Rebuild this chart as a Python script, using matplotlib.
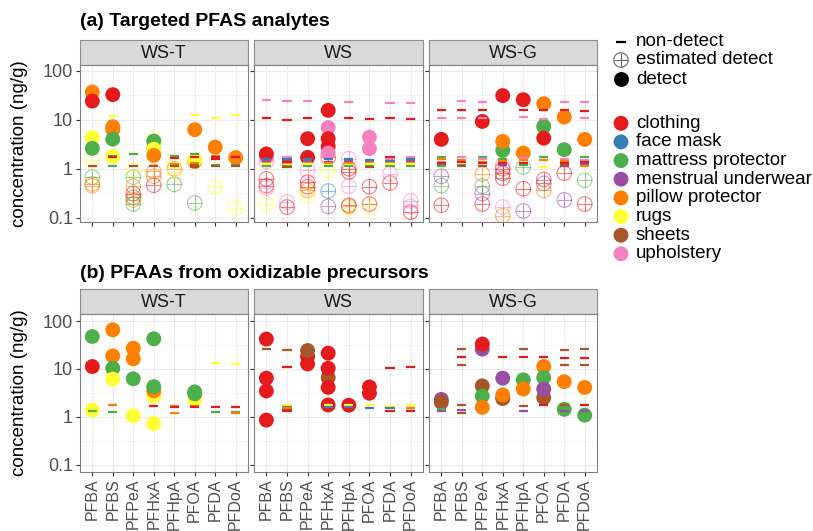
import matplotlib.pyplot as plt

plt.rcParams['font.family'] = ['Liberation Sans', 'DejaVu Sans']

analytes = ["PFBA", "PFBS", "PFPeA", "PFHxA", "PFHpA", "PFOA", "PFDA", "PFDoA"]
products = ["clothing", "face mask", "mattress protector", "menstrual underwear",
            "pillow protector", "rugs", "sheets", "upholstery"]
codes = ["cl", "fm", "mp", "mu", "pp", "ru", "sh", "up"]
product_colors = ["#E41A1C", "#377EB8", "#4DAF4A", "#984EA3",
                  "#FF7F00", "#FFFF33", "#A65628", "#F781BF"]
facets = ["WS-T", "WS", "WS-G"]

# (a) targeted analytes -- (analyte, product code, ng/g)
a_wst_nd = [("PFBA", "sh", 1.11),
            ("PFBS", "ru", 11.7), ("PFBS", "mp", 1.85), ("PFBS", "cl", 1.75), ("PFBS", "mp", 1.11),
            ("PFPeA", "mp", 1.96), ("PFPeA", "sh", 1.11),
            ("PFHxA", "sh", 1.13),
            ("PFHpA", "mp", 1.78), ("PFHpA", "cl", 1.68), ("PFHpA", "pp", 1.25), ("PFHpA", "sh", 1.12),
            ("PFOA", "ru", 12.2), ("PFOA", "mp", 1.96), ("PFOA", "cl", 1.7), ("PFOA", "pp", 1.3),
            ("PFOA", "sh", 1.2), ("PFOA", "sh", 1.1),
            ("PFDA", "ru", 11.0), ("PFDA", "pp", 1.85), ("PFDA", "cl", 1.7), ("PFDA", "cl", 1.55),
            ("PFDA", "mp", 1.2), ("PFDA", "sh", 1.12),
            ("PFDoA", "ru", 12.6), ("PFDoA", "cl", 1.7), ("PFDoA", "mp", 1.2), ("PFDoA", "sh", 1.15)]
a_wst_est = [("PFBA", "ru", 1.48), ("PFBA", "mp", 0.67), ("PFBA", "pp", 0.49), ("PFBA", "pp", 0.45),
             ("PFPeA", "ru", 0.95), ("PFPeA", "mp", 0.67), ("PFPeA", "pp", 0.44), ("PFPeA", "cl", 0.31),
             ("PFPeA", "sh", 0.26), ("PFPeA", "pp", 0.23), ("PFPeA", "mp", 0.19),
             ("PFHxA", "ru", 4.1), ("PFHxA", "pp", 0.88), ("PFHxA", "pp", 0.70), ("PFHxA", "cl", 0.46),
             ("PFHpA", "ru", 1.36), ("PFHpA", "pp", 1.0), ("PFHpA", "ru", 0.85), ("PFHpA", "mp", 0.48),
             ("PFOA", "mp", 0.2), ("PFDA", "ru", 0.42), ("PFDoA", "ru", 0.16)]
a_wst_det = [("PFBA", "pp", 36.6), ("PFBA", "cl", 24.0), ("PFBA", "ru", 4.3), ("PFBA", "mp", 2.6),
             ("PFBS", "cl", 32.4), ("PFBS", "pp", 7.2), ("PFBS", "pp", 6.3), ("PFBS", "mp", 4.0),
             ("PFBS", "ru", 1.78),
             ("PFHxA", "mp", 3.66), ("PFHxA", "mp", 2.56), ("PFHxA", "ru", 2.5), ("PFHxA", "pp", 1.87),
             ("PFOA", "pp", 6.25), ("PFOA", "pp", 1.4), ("PFOA", "ru", 1.5),
             ("PFDA", "pp", 2.76), ("PFDoA", "pp", 1.68)]

a_ws_nd = [("PFBA", "up", 24.8), ("PFBA", "cl", 10.8), ("PFBA", "fm", 1.6), ("PFBA", "mu", 1.45),
           ("PFBA", "pp", 1.3), ("PFBA", "ru", 1.22), ("PFBA", "mp", 1.15),
           ("PFBS", "up", 24.0), ("PFBS", "cl", 9.7), ("PFBS", "up", 1.7), ("PFBS", "fm", 1.55),
           ("PFBS", "mu", 1.45), ("PFBS", "cl", 1.35), ("PFBS", "pp", 1.25), ("PFBS", "ru", 1.2),
           ("PFBS", "mp", 1.15), ("PFBS", "sh", 1.1),
           ("PFPeA", "up", 24.0), ("PFPeA", "cl", 11.0), ("PFPeA", "fm", 1.6), ("PFPeA", "mu", 1.45),
           ("PFPeA", "pp", 1.3), ("PFPeA", "ru", 1.22), ("PFPeA", "mp", 1.15),
           ("PFHxA", "fm", 1.55), ("PFHxA", "mu", 1.4), ("PFHxA", "pp", 1.3), ("PFHxA", "ru", 1.2),
           ("PFHxA", "mp", 1.15),
           ("PFHpA", "up", 22.5), ("PFHpA", "cl", 10.8), ("PFHpA", "fm", 1.55), ("PFHpA", "mu", 1.45),
           ("PFHpA", "pp", 1.3), ("PFHpA", "ru", 1.2), ("PFHpA", "mp", 1.15),
           ("PFOA", "cl", 10.5), ("PFOA", "fm", 1.5), ("PFOA", "mu", 1.4), ("PFOA", "pp", 1.3),
           ("PFOA", "ru", 1.22), ("PFOA", "mp", 1.15), ("PFOA", "sh", 1.1),
           ("PFDA", "up", 22.0), ("PFDA", "cl", 11.0), ("PFDA", "cl", 1.75), ("PFDA", "up", 1.6),
           ("PFDA", "fm", 1.45), ("PFDA", "pp", 1.3), ("PFDA", "ru", 1.22), ("PFDA", "mp", 1.15),
           ("PFDoA", "up", 22.0), ("PFDoA", "cl", 10.5), ("PFDoA", "up", 1.7), ("PFDoA", "fm", 1.55),
           ("PFDoA", "mu", 1.45), ("PFDoA", "pp", 1.3), ("PFDoA", "ru", 1.22), ("PFDoA", "mp", 1.15)]
a_ws_est = [("PFBA", "up", 1.41), ("PFBA", "cl", 0.62), ("PFBA", "cl", 0.45), ("PFBA", "up", 0.4),
            ("PFBA", "ru", 0.19),
            ("PFBS", "up", 0.21), ("PFBS", "cl", 0.165),
            ("PFPeA", "up", 0.92), ("PFPeA", "cl", 0.53), ("PFPeA", "cl", 0.43), ("PFPeA", "pp", 0.36),
            ("PFPeA", "ru", 0.285),
            ("PFHxA", "cl", 1.7), ("PFHxA", "ru", 0.92), ("PFHxA", "fm", 0.35), ("PFHxA", "mu", 0.17),
            ("PFHpA", "up", 1.6), ("PFHpA", "cl", 1.0), ("PFHpA", "cl", 0.86), ("PFHpA", "up", 0.44),
            ("PFHpA", "pp", 0.17), ("PFHpA", "ru", 0.16), ("PFHpA", "cl", 0.18),
            ("PFOA", "cl", 0.43), ("PFOA", "cl", 0.19), ("PFOA", "ru", 0.165),
            ("PFDA", "up", 0.79), ("PFDA", "cl", 0.51),
            ("PFDoA", "up", 0.22), ("PFDoA", "up", 0.17), ("PFDoA", "cl", 0.13)]
a_ws_det = [("PFBA", "up", 1.75), ("PFBA", "cl", 2.0),
            ("PFPeA", "cl", 4.1), ("PFPeA", "cl", 1.7),
            ("PFHxA", "cl", 15.5), ("PFHxA", "up", 6.9), ("PFHxA", "cl", 4.1), ("PFHxA", "cl", 2.85),
            ("PFHxA", "up", 2.08),
            ("PFOA", "up", 4.4), ("PFOA", "up", 2.56)]

a_wsg_nd = [("PFBA", "cl", 15.5), ("PFBA", "up", 11.0), ("PFBA", "mp", 1.75), ("PFBA", "pp", 1.55),
            ("PFBA", "up", 1.4), ("PFBA", "cl", 1.3), ("PFBA", "sh", 1.2), ("PFBA", "mp", 1.12),
            ("PFBS", "up", 24.0), ("PFBS", "cl", 16.0), ("PFBS", "up", 11.0), ("PFBS", "up", 1.7),
            ("PFBS", "pp", 1.5), ("PFBS", "cl", 1.35), ("PFBS", "mp", 1.2), ("PFBS", "sh", 1.12),
            ("PFPeA", "up", 23.0), ("PFPeA", "cl", 16.0), ("PFPeA", "up", 11.0), ("PFPeA", "mp", 1.75),
            ("PFPeA", "up", 1.55), ("PFPeA", "pp", 1.4), ("PFPeA", "cl", 1.3), ("PFPeA", "sh", 1.15),
            ("PFHxA", "mp", 1.6), ("PFHxA", "pp", 1.45), ("PFHxA", "cl", 1.3), ("PFHxA", "mu", 1.2),
            ("PFHpA", "cl", 15.5), ("PFHpA", "up", 11.5), ("PFHpA", "up", 1.65), ("PFHpA", "pp", 1.5),
            ("PFHpA", "cl", 1.3), ("PFHpA", "mp", 1.2),
            ("PFOA", "cl", 16.0), ("PFOA", "up", 10.5), ("PFOA", "mp", 1.7), ("PFOA", "pp", 1.5),
            ("PFOA", "ru", 1.08),
            ("PFDA", "up", 23.0), ("PFDA", "cl", 16.0), ("PFDA", "up", 1.6), ("PFDA", "pp", 1.45),
            ("PFDA", "cl", 1.3), ("PFDA", "mu", 1.2), ("PFDA", "sh", 1.12),
            ("PFDoA", "up", 23.0), ("PFDoA", "cl", 15.0), ("PFDoA", "up", 11.0), ("PFDoA", "mp", 1.7),
            ("PFDoA", "up", 1.5), ("PFDoA", "cl", 1.35), ("PFDoA", "mu", 1.22), ("PFDoA", "pp", 1.12)]
a_wsg_est = [("PFBA", "mu", 0.70), ("PFBA", "mp", 0.45), ("PFBA", "cl", 0.18),
             ("PFPeA", "pp", 0.78), ("PFPeA", "mp", 0.44), ("PFPeA", "mu", 0.31), ("PFPeA", "cl", 0.19),
             ("PFHxA", "up", 1.2), ("PFHxA", "cl", 1.0), ("PFHxA", "cl", 0.8), ("PFHxA", "cl", 0.64),
             ("PFHxA", "up", 0.165), ("PFHxA", "pp", 0.11),
             ("PFHpA", "mp", 1.08), ("PFHpA", "cl", 0.39), ("PFHpA", "mu", 0.137),
             ("PFOA", "cl", 0.6), ("PFOA", "mu", 0.5), ("PFOA", "pp", 0.36),
             ("PFDA", "cl", 0.81), ("PFDA", "mu", 0.23),
             ("PFDoA", "mp", 0.58), ("PFDoA", "cl", 0.19)]
a_wsg_det = [("PFBA", "cl", 3.96), ("PFPeA", "cl", 9.2),
             ("PFHxA", "cl", 31.0), ("PFHxA", "mp", 2.36), ("PFHxA", "pp", 3.6),
             ("PFHpA", "cl", 25.6), ("PFHpA", "pp", 2.08),
             ("PFOA", "pp", 21.2), ("PFOA", "mp", 7.3), ("PFOA", "cl", 4.2),
             ("PFDA", "pp", 11.3), ("PFDA", "mp", 2.44), ("PFDoA", "pp", 3.96)]

# (b) PFAAs from oxidizable precursors
b_wst_nd = [("PFBA", "mp", 1.3), ("PFBS", "pp", 1.76), ("PFBS", "mp", 1.27), ("PFHxA", "cl", 1.68),
            ("PFHpA", "pp", 1.7), ("PFHpA", "cl", 1.6), ("PFHpA", "pp", 1.18),
            ("PFOA", "pp", 1.7), ("PFOA", "cl", 1.58),
            ("PFDA", "ru", 13.2), ("PFDA", "cl", 1.58), ("PFDA", "mp", 1.28),
            ("PFDoA", "ru", 12.7), ("PFDoA", "cl", 1.6), ("PFDoA", "mp", 1.28), ("PFDoA", "pp", 1.22)]
b_wst_det = [("PFBA", "mp", 47.5), ("PFBA", "cl", 11.2), ("PFBA", "ru", 1.38),
             ("PFBS", "pp", 65.7), ("PFBS", "pp", 18.7), ("PFBS", "mp", 10.3), ("PFBS", "ru", 6.1),
             ("PFPeA", "pp", 27.0), ("PFPeA", "pp", 16.2), ("PFPeA", "mp", 6.2), ("PFPeA", "ru", 1.05),
             ("PFHxA", "mp", 42.6), ("PFHxA", "ru", 2.7), ("PFHxA", "pp", 3.46), ("PFHxA", "mp", 4.25),
             ("PFHxA", "ru", 0.72),
             ("PFOA", "ru", 2.3), ("PFOA", "mp", 3.0), ("PFOA", "mp", 3.3)]
b_ws_nd = [("PFBA", "sh", 25.9),
           ("PFBS", "sh", 25.0), ("PFBS", "cl", 11.2), ("PFBS", "ru", 1.75), ("PFBS", "fm", 1.6),
           ("PFBS", "pp", 1.5), ("PFBS", "sh", 1.4), ("PFBS", "cl", 1.3),
           ("PFHxA", "ru", 1.8), ("PFHxA", "fm", 1.6), ("PFHpA", "ru", 1.8), ("PFHpA", "fm", 1.6),
           ("PFOA", "ru", 1.75), ("PFOA", "fm", 1.55),
           ("PFDA", "cl", 10.6), ("PFDA", "ru", 1.7), ("PFDA", "fm", 1.55), ("PFDA", "cl", 1.3),
           ("PFDoA", "cl", 10.8), ("PFDoA", "ru", 1.8), ("PFDoA", "fm", 1.55), ("PFDoA", "pp", 1.5),
           ("PFDoA", "cl", 1.3)]
b_ws_det = [("PFBA", "cl", 42.0), ("PFBA", "cl", 6.4), ("PFBA", "cl", 3.46), ("PFBA", "cl", 0.85),
            ("PFPeA", "cl", 18.1), ("PFPeA", "cl", 12.7), ("PFPeA", "sh", 24.2),
            ("PFHxA", "sh", 6.6), ("PFHxA", "cl", 21.3), ("PFHxA", "cl", 10.3), ("PFHxA", "cl", 4.1),
            ("PFHxA", "cl", 1.76),
            ("PFHpA", "cl", 1.74), ("PFOA", "cl", 4.2), ("PFOA", "cl", 3.1)]
b_wsg_nd = [("PFBA", "mp", 1.45), ("PFBA", "mu", 1.3),
            ("PFBS", "sh", 26.0), ("PFBS", "cl", 17.3), ("PFBS", "sh", 12.1), ("PFBS", "sh", 1.8),
            ("PFBS", "mu", 1.35), ("PFBS", "sh", 1.2),
            ("PFHxA", "cl", 18.1),
            ("PFHpA", "sh", 26.0), ("PFHpA", "cl", 17.7), ("PFHpA", "sh", 1.7), ("PFHpA", "mu", 1.3),
            ("PFOA", "cl", 18.0), ("PFOA", "cl", 1.75),
            ("PFDA", "sh", 25.0), ("PFDA", "cl", 16.7), ("PFDA", "sh", 12.0), ("PFDA", "sh", 1.75),
            ("PFDA", "mu", 1.3),
            ("PFDoA", "sh", 26.5), ("PFDoA", "cl", 16.7), ("PFDoA", "sh", 12.0), ("PFDoA", "cl", 1.75),
            ("PFDoA", "mu", 1.3)]
b_wsg_det = [("PFBA", "mu", 2.3), ("PFBA", "sh", 2.0),
             ("PFPeA", "mu", 25.9), ("PFPeA", "cl", 33.0), ("PFPeA", "sh", 4.4), ("PFPeA", "mp", 2.7),
             ("PFPeA", "pp", 1.57),
             ("PFHxA", "mu", 6.4), ("PFHxA", "mp", 2.5), ("PFHxA", "sh", 2.4), ("PFHxA", "pp", 2.85),
             ("PFHpA", "mp", 5.9), ("PFHpA", "pp", 3.8),
             ("PFOA", "pp", 11.2), ("PFOA", "mp", 6.6), ("PFOA", "sh", 2.5), ("PFOA", "mu", 3.8),
             ("PFDA", "pp", 5.4), ("PFDA", "mp", 1.43),
             ("PFDoA", "pp", 4.1), ("PFDoA", "mp", 1.08)]

W, H = 813, 531
fig = plt.figure(figsize=(W / 100, H / 100), dpi=100)


def box(x0, y0, x1, y1):
    return [x0 / W, 1 - y1 / H, (x1 - x0) / W, (y1 - y0) / H]


def split(rows):
    x = [analytes.index(a) for a, p, v in rows]
    y = [v for a, p, v in rows]
    c = [product_colors[codes.index(p)] for a, p, v in rows]
    return x, y, c


def draw(ax, nd, est, det):
    if est:
        x, y, c = split(est)
        ax.scatter(x, y, s=110, facecolors="none", edgecolors=c, linewidths=0.8, alpha=0.55, zorder=3)
        ax.scatter(x, y, s=110, marker="+", c=c, linewidths=0.8, alpha=0.55, zorder=3)
    if det:
        x, y, c = split(det)
        ax.scatter(x, y, s=115, c=c, linewidths=0, zorder=4)
    if nd:
        x, y, c = split(nd)
        ax.scatter(x, y, s=45, marker="_", c=c, linewidths=1.6, zorder=5)


panels_x = [(80, 248), (254, 423), (429, 597)]
rows = [
    dict(title="(a) Targeted PFAS analytes", ty=22, strip=(40, 65), ax=(65, 222),
         ylim=(10 ** -1.088, 10 ** 2.116),
         data=[(a_wst_nd, a_wst_est, a_wst_det), (a_ws_nd, a_ws_est, a_ws_det),
               (a_wsg_nd, a_wsg_est, a_wsg_det)]),
    dict(title="(b) PFAAs from oxidizable precursors", ty=273, strip=(289, 314), ax=(314, 472),
         ylim=(10 ** -1.155, 10 ** 2.147),
         data=[(b_wst_nd, None, b_wst_det), (b_ws_nd, None, b_ws_det),
               (b_wsg_nd, None, b_wsg_det)]),
]

minor = [10 ** -0.5, 10 ** 0.5, 10 ** 1.5]
for r, row in enumerate(rows):
    fig.text(80 / W, 1 - row["ty"] / H, row["title"], fontsize=14, fontweight="bold",
             va="center", ha="left")
    y0, y1 = row["ax"]
    fig.text(20 / W, 1 - (y0 + y1) / 2 / H, "concentration (ng/g)", rotation=90,
             fontsize=13.5, va="center", ha="center")
    for j, (x0, x1) in enumerate(panels_x):
        sax = fig.add_axes(box(x0, row["strip"][0], x1, row["strip"][1]))
        sax.set_facecolor("#D9D9D9")
        sax.set_xticks([])
        sax.set_yticks([])
        for sp in sax.spines.values():
            sp.set_color("#8C8C8C")
            sp.set_linewidth(0.8)
        sax.text(0.5, 0.45, facets[j], transform=sax.transAxes, ha="center", va="center",
                 fontsize=13, color="#1A1A1A")

        ax = fig.add_axes(box(x0, y0, x1, y1))
        ax.set_yscale("log")
        ax.set_ylim(*row["ylim"])
        ax.set_xlim(-0.6, 7.6)
        ax.set_xticks(range(len(analytes)))
        ax.set_yticks([0.1, 1, 10, 100])
        ax.set_yticks(minor, minor=True)
        ax.tick_params(axis="y", which="minor", length=0, labelleft=False)
        ax.grid(True, which="major", color="#EBEBEB", linewidth=0.8, zorder=0)
        ax.grid(True, which="minor", axis="y", color="#F2F2F2", linewidth=0.5, zorder=0)
        ax.set_axisbelow(True)
        ax.tick_params(axis="both", which="major", length=3, color="#333333",
                       labelcolor="#4D4D4D", labelsize=13, pad=2)
        ax.tick_params(axis="x", labelsize=11.5, pad=1.5)
        if j == 0:
            ax.set_yticklabels(["0.1", "1", "10", "100"])
        else:
            ax.set_yticklabels([])
        if r == 1:
            ax.set_xticklabels(analytes, rotation=90)
        else:
            ax.set_xticklabels([])
        for sp in ax.spines.values():
            sp.set_color("#7F7F7F")
            sp.set_linewidth(0.8)
        nd, est, det = row["data"][j]
        draw(ax, nd, est, det)

# legends
lax = fig.add_axes([0, 0, 1, 1], facecolor="none")
lax.set_xlim(0, W)
lax.set_ylim(H, 0)
lax.axis("off")
key_x, txt_x = 621, 636
shape_y = [41.7, 60, 79.3]
lax.scatter([key_x], [shape_y[0]], s=45, marker="_", c="black", linewidths=1.6)
lax.scatter([key_x], [shape_y[1]], s=110, facecolors="none", edgecolors="#666666", linewidths=0.8)
lax.scatter([key_x], [shape_y[1]], s=110, marker="+", c="#666666", linewidths=0.8)
lax.scatter([key_x], [shape_y[2]], s=115, c="black", linewidths=0)
for yy, lab in zip(shape_y, ["non-detect", "estimated detect", "detect"]):
    lax.text(txt_x, yy, lab, fontsize=13.5, va="center", ha="left")
color_y = [123.3, 141.9, 160.6, 179.2, 197.9, 216.5, 235.2, 253.8]
lax.scatter([key_x] * len(products), color_y, s=115, c=product_colors, linewidths=0)
for yy, lab in zip(color_y, products):
    lax.text(txt_x, yy, lab, fontsize=13.5, va="center", ha="left")

fig.savefig("out.png", dpi=100)
